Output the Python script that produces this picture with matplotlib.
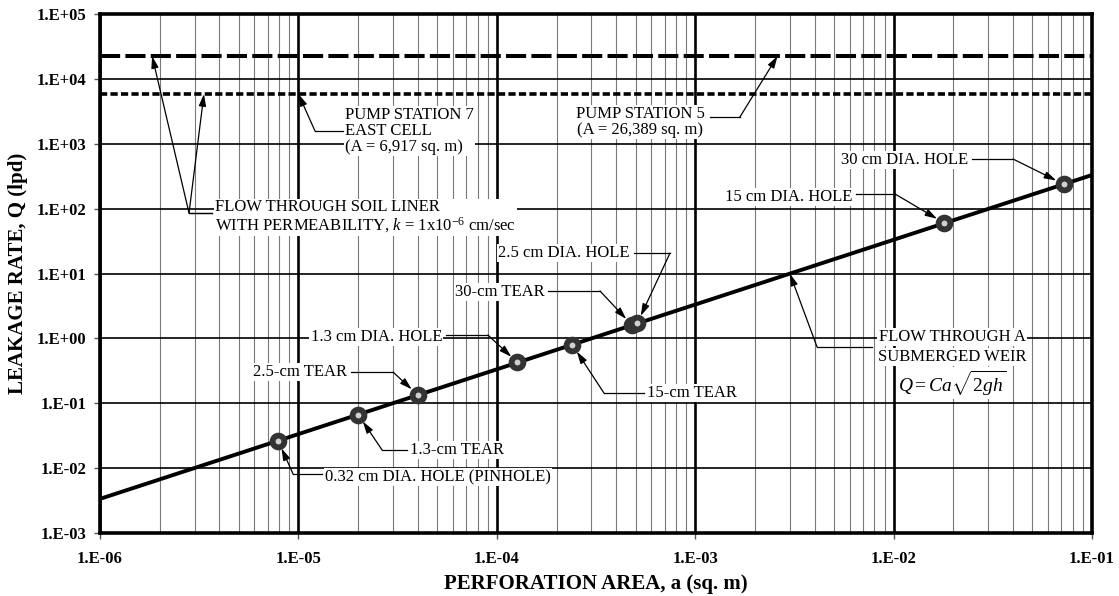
import numpy as np
import matplotlib
matplotlib.use("Agg")
import matplotlib.pyplot as plt
from matplotlib.ticker import FixedLocator, FuncFormatter, NullFormatter

plt.rcParams['font.family'] = ['Liberation Serif', 'DejaVu Serif']
plt.rcParams['mathtext.fontset'] = 'custom'
plt.rcParams['mathtext.rm'] = 'Liberation Serif'
plt.rcParams['mathtext.it'] = 'Liberation Serif:italic'
plt.rcParams['mathtext.bf'] = 'Liberation Serif:bold'

# ---------------- data ----------------
weir_a = [1e-6, 1e-1]            # perforation area (sq. m)
weir_q = [3.36e-3, 3.3e2]        # leakage rate (lpd)

point_names = ["0.32 cm DIA. HOLE (PINHOLE)", "1.3-cm TEAR", "2.5-cm TEAR",
               "1.3 cm DIA. HOLE", "15-cm TEAR", "30-cm TEAR",
               "2.5 cm DIA. HOLE", "15 cm DIA. HOLE", "30 cm DIA. HOLE"]
point_a = [7.9e-6, 2.0e-5, 4.0e-5, 1.27e-4, 2.4e-4, 4.8e-4, 5.1e-4, 1.8e-2, 7.2e-2]
point_q = [0.0265, 0.067, 0.134, 0.425, 0.80, 1.6, 1.7, 60.0, 238.0]

soil_q_ps5 = 2.25e4   # Pump Station 5 (A = 26,389 sq. m)
soil_q_ps7 = 5.85e3   # Pump Station 7 East Cell (A = 6,917 sq. m)

x_ticks = [1e-6, 1e-5, 1e-4, 1e-3, 1e-2, 1e-1]
y_ticks = [1e-3, 1e-2, 1e-1, 1e0, 1e1, 1e2, 1e3, 1e4, 1e5]

# ---------------- figure ----------------
fig = plt.figure(figsize=(11.19, 5.96), dpi=100)
ax = fig.add_axes([0.0894, 0.1057, 0.8865, 0.8708])
ax.set_xscale('log')
ax.set_yscale('log')
ax.set_xlim(1e-6, 1e-1)
ax.set_ylim(1e-3, 1e5)
ax.set_axisbelow(True)

ax.xaxis.set_major_locator(FixedLocator(x_ticks))
ax.yaxis.set_major_locator(FixedLocator(y_ticks))
minor_x = [m * 10.0**e for e in range(-6, -1) for m in range(2, 10)]
ax.xaxis.set_minor_locator(FixedLocator(minor_x))
ax.yaxis.set_minor_locator(FixedLocator([]))
ax.xaxis.set_minor_formatter(NullFormatter())

fmt = FuncFormatter(lambda v, p: "1.E%+03d" % int(round(np.log10(v))))
ax.xaxis.set_major_formatter(fmt)
ax.yaxis.set_major_formatter(fmt)

ax.grid(which='major', axis='x', color='black', lw=1.9)
ax.grid(which='major', axis='y', color='black', lw=1.2)
ax.grid(which='minor', axis='x', color='#7a7a7a', lw=0.8)

ax.tick_params(axis='x', which='major', direction='out', length=4, width=1,
               color='#555555', pad=9, labelsize=12)
ax.tick_params(axis='y', which='major', direction='out', length=4, width=1,
               color='#555555', pad=6, labelsize=12)
ax.tick_params(which='minor', length=0)
for lab in ax.get_xticklabels() + ax.get_yticklabels():
    lab.set_fontweight('bold')

for s in ax.spines.values():
    s.set_linewidth(2.6)
    s.set_color('black')

ax.set_xlabel("PERFORATION AREA, a (sq. m)", fontsize=15, fontweight='bold', labelpad=5)
ax.set_ylabel("LEAKAGE RATE, Q (lpd)", fontsize=15, fontweight='bold', labelpad=6)

# soil liner lines
ax.axhline(soil_q_ps5, color='black', lw=2.9, dashes=(5, 1.3), zorder=3)
ax.axhline(soil_q_ps7, color='black', lw=2.6, dashes=(2, 0.9), zorder=3)

# weir line and points
ax.plot(weir_a, weir_q, color='black', lw=2.8, zorder=4)
ax.plot(point_a, point_q, ls='none', marker='o', markersize=8.5,
        markerfacecolor='#d0d0d0', markeredgecolor='#333333',
        markeredgewidth=4.2, zorder=5)

TXT = dict(fontsize=12, zorder=6,
           bbox=dict(facecolor='white', edgecolor='none', pad=1.0))
ARW = dict(arrowstyle='-|>,head_length=0.6,head_width=0.18', color='black',
           lw=0.9, shrinkA=0, mutation_scale=12)


def leader(target, corner, end, shrinkB=0):
    ax.annotate('', xy=target, xycoords='data', xytext=corner,
                textcoords='axes fraction',
                arrowprops=dict(ARW, shrinkB=shrinkB), zorder=7)
    ax.plot([corner[0], end], [corner[1], corner[1]], color='black', lw=0.9,
            transform=ax.transAxes, zorder=7, clip_on=False)


# point labels: (text x, text y, ha, corner x, corner y, leader end x)
lab_specs = [
    (0.2268, 0.1079, 'left', 0.1946, 0.1137, 0.224),
    (0.3125, 0.1600, 'left', 0.2843, 0.1600, 0.309),
    (0.2490, 0.3100, 'right', 0.2954, 0.3100, 0.253),
    (0.3448, 0.3776, 'right', 0.3910, 0.3815, 0.349),
    (0.5514, 0.2697, 'left', 0.5080, 0.2697, 0.548),
    (0.4486, 0.4644, 'right', 0.5040, 0.4663, 0.452),
    (0.5340, 0.5395, 'right', 0.5746, 0.5395, 0.538),
    (0.7580, 0.6474, 'right', 0.8014, 0.6532, 0.762),
    (0.8750, 0.7187, 'right', 0.9204, 0.7206, 0.879),
]
for name, a, q, (tx, ty, ha, cx, cy, ex) in zip(point_names, point_a, point_q, lab_specs):
    ax.text(tx, ty, name, ha=ha, va='center', transform=ax.transAxes, **TXT)
    leader((a, q), (cx, cy), ex, shrinkB=6)

# pump station labels
ax.text(0.247, 0.7746, "PUMP STATION 7\nEAST CELL\n(A = 6,917 sq. m)", ha='left',
        va='center', linespacing=1.0, transform=ax.transAxes, **TXT)
leader((1e-5, soil_q_ps7), (0.2167, 0.7746), 0.245)

ax.text(0.5444, 0.7919, "PUMP STATION 5\n(A = 26,389 sq. m)", ha='center',
        va='center', linespacing=1.0, transform=ax.transAxes, **TXT)
leader((2.6e-3, soil_q_ps5), (0.645, 0.8015), 0.6149)

# soil liner label
ax.text(0.116, 0.6089,
        "FLOW THROUGH SOIL LINER\nWITH PERMEABILITY, $k$ = 1x10$^{-6}$ cm/sec",
        ha='left', va='center', linespacing=1.0, transform=ax.transAxes, **TXT)
leader((1.83e-6, soil_q_ps5), (0.0897, 0.6166), 0.113)
leader((3.34e-6, soil_q_ps7), (0.0897, 0.6166), 0.113)

# weir label
weir_arrow_a = 3.0e-3
weir_arrow_q = 10 ** np.interp(np.log10(weir_arrow_a), np.log10(weir_a), np.log10(weir_q))
ax.text(0.8589, 0.3776, "FLOW THROUGH A", ha='center', va='center',
        transform=ax.transAxes, **TXT)
ax.text(0.8589, 0.3391, "SUBMERGED WEIR", ha='center', va='center',
        transform=ax.transAxes, **TXT)
ax.text(0.8589, 0.289, r"$Q = Ca\sqrt{2gh}$", ha='center', va='center',
        transform=ax.transAxes, fontsize=14, zorder=6,
        bbox=dict(facecolor='white', edgecolor='none', pad=1.0))
leader((weir_arrow_a, weir_arrow_q), (0.7228, 0.3584), 0.778)

fig.savefig("out.png", dpi=100)
